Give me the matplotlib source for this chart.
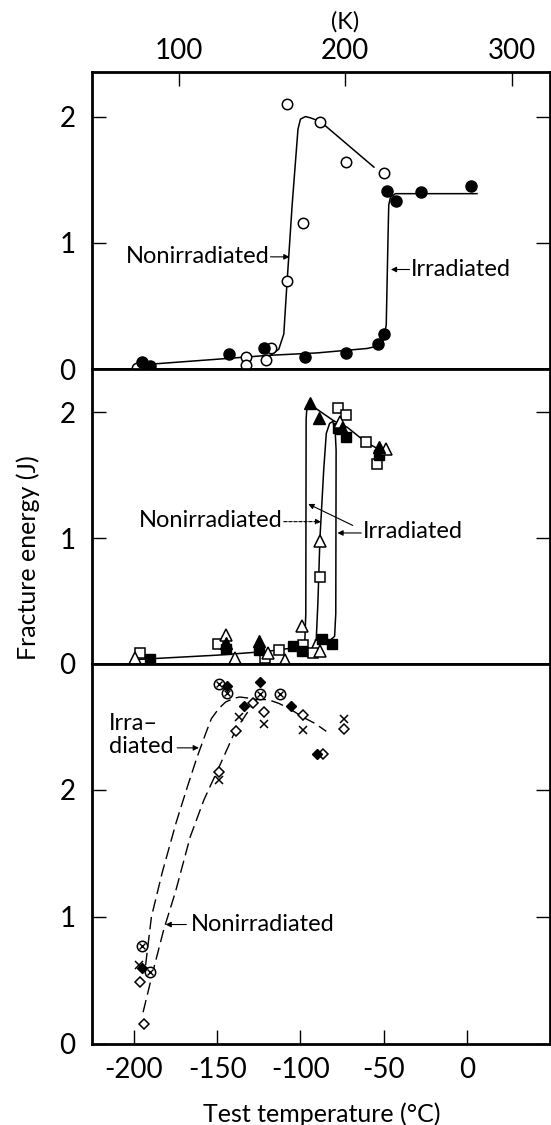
import matplotlib
matplotlib.use("Agg")
import matplotlib.pyplot as plt

plt.rcParams['font.family'] = ['Lato', 'DejaVu Sans']
plt.rcParams['axes.unicode_minus'] = False

# ---- panel 1: circles ----
p1_non_T = [-198, -132.7, -132.7, -120.6, -117.4, -107.8, -98.3, -107.8, -88.1, -72.9, -49.9]
p1_non_E = [0.01, 0.10, 0.035, 0.07, 0.17, 0.70, 1.16, 2.10, 1.96, 1.64, 1.55]
p1_irr_T = [-194.9, -190.6, -142.8, -122.1, -97.3, -72.9, -53.7, -49.9, -47.8, -42.7, -27.9, 2.5]
p1_irr_E = [0.06, 0.03, 0.12, 0.17, 0.10, 0.13, 0.20, 0.28, 1.41, 1.33, 1.40, 1.45]

p1_low_T = [-196, -150, -120, -90, -60, -55]
p1_low_E = [0.035, 0.08, 0.11, 0.13, 0.165, 0.18]
p1_irr_curve_T = [-55, -50.5, -48.5, -47.5, -47, -46, -43, -20, 0, 6]
p1_irr_curve_E = [0.18, 0.22, 0.35, 1.0, 1.3, 1.36, 1.39, 1.39, 1.39, 1.39]
p1_non_curve_T = [-118, -113, -110, -108.5, -105, -101.5, -100, -97, -94, -88, -55.9]
p1_non_curve_E = [0.11, 0.16, 0.28, 0.6, 1.3, 1.9, 1.98, 2.0, 1.99, 1.96, 1.60]

# ---- panel 2: squares and triangles ----
p2_osq_T = [-196.2, -149.8, -121.4, -112.8, -98.7, -92.7, -88.3, -77.7, -72.9, -60.7, -54.0]
p2_osq_E = [0.09, 0.16, 0.045, 0.11, 0.15, 0.085, 0.69, 2.03, 1.98, 1.76, 1.59]
p2_fsq_T = [-190.6, -144.8, -124.8, -104.3, -99.3, -87.3, -81.2, -77.7, -72.9, -53.1]
p2_fsq_E = [0.04, 0.12, 0.11, 0.14, 0.10, 0.20, 0.16, 1.87, 1.80, 1.66]
p2_otri_T = [-199.6, -144.8, -139.4, -119.4, -109.3, -99.3, -88.3, -88.3, -76.3, -48.4]
p2_otri_E = [0.045, 0.23, 0.045, 0.09, 0.03, 0.30, 0.10, 0.98, 1.92, 1.71]
p2_ftri_T = [-144.8, -124.8, -94.0, -88.7, -75.0, -53.1]
p2_ftri_E = [0.17, 0.18, 2.07, 1.95, 1.87, 1.72]

p2_irr1_T = [-199, -150, -120, -97.5, -96.8, -96.6, -96.2, -95, -92, -80, -72, -60.7, -49.5]
p2_irr1_E = [0.035, 0.07, 0.10, 0.14, 0.4, 1.95, 2.02, 2.05, 2.04, 1.93, 1.88, 1.76, 1.68]
p2_non_T = [-93, -90.5, -89.5, -88.3, -86, -84.5, -82.5, -80]
p2_non_E = [0.13, 0.2, 0.5, 1.0, 1.55, 1.83, 1.91, 1.93]
p2_irr2_T = [-91, -82, -79.5, -78.8, -78.6, -79.2, -80.5]
p2_irr2_E = [0.19, 0.19, 0.22, 0.4, 1.7, 1.86, 1.92]

# ---- panel 3: diamonds, crosses, circled crosses ----
p3_ocx_T = [-194.9, -190.6, -149.2, -143.9, -124.4, -112.1]
p3_ocx_E = [0.77, 0.57, 2.83, 2.76, 2.75, 2.75]
p3_fdia_T = [-194.9, -143.9, -124.4, -133.7, -105.7, -89.8]
p3_fdia_E = [0.60, 2.82, 2.85, 2.66, 2.66, 2.28]
p3_odia_T = [-196.6, -194.2, -149.2, -139.0, -128.5, -121.7, -98.7, -86.6, -73.9]
p3_odia_E = [0.49, 0.16, 2.14, 2.46, 2.68, 2.61, 2.59, 2.28, 2.48]
p3_x_T = [-197.0, -149.2, -136.9, -122.1, -98.3, -73.9]
p3_x_E = [0.62, 2.08, 2.57, 2.52, 2.47, 2.56]

p3_irr_T = [-193, -189.5, -183, -174.7, -168, -162, -157, -153.5, -149, -145, -140,
            -136.5, -130, -126.4, -119.6, -113, -106.8, -98.3, -91, -84.5]
p3_irr_E = [0.62, 1.0, 1.35, 1.74, 2.02, 2.26, 2.44, 2.56, 2.64, 2.69, 2.72,
            2.73, 2.72, 2.71, 2.71, 2.68, 2.64, 2.57, 2.52, 2.46]
p3_non_T = [-194.5, -188, -182.1, -175, -166.2, -158, -149.2, -143, -139, -132.3, -126.4]
p3_non_E = [0.25, 0.6, 0.9, 1.2, 1.63, 1.92, 2.17, 2.35, 2.47, 2.60, 2.71]

ylims = [2.35, 2.34, 2.99]
k_ticks = [100, 200, 300]
c_ticks = [-200, -150, -100, -50, 0]

fig = plt.figure(figsize=(5.51, 11.25), dpi=100)
left, width = 0.1675, 0.8312
boxes = [(0.6717, 0.2640), (0.4098, 0.2620), (0.0720, 0.3378)]
axes = []
for i, (b, h) in enumerate(boxes):
    ax = fig.add_axes([left, b, width, h])
    ax.set_xlim(-225, 50)
    ax.set_ylim(0, ylims[i])
    ax.set_yticks([0, 1, 2])
    ax.tick_params(axis='y', direction='in', length=10, width=1.0, labelsize=20,
                   pad=12, right=True)
    for s in ax.spines.values():
        s.set_linewidth(2.0)
    if i < 2:
        ax.tick_params(axis='x', bottom=False, labelbottom=False)
    else:
        ax.set_xticks(c_ticks)
        ax.tick_params(axis='x', direction='in', length=10, width=1.0,
                       labelsize=20, pad=9)
    axes.append(ax)

ax1, ax2, ax3 = axes

# Kelvin scale across the top
sec = ax1.secondary_xaxis('top', functions=(lambda t: t + 273.15, lambda k: k - 273.15))
sec.set_xticks(k_ticks)
sec.tick_params(direction='in', length=10, width=1.0, labelsize=20, pad=6)
fig.text(345 / 551, 1 - 22 / 1125, '(K)', ha='center', va='center', fontsize=17)

line_kw = dict(color='black', lw=1.1, zorder=2)
open_kw = dict(ls='none', mfc='white', mec='black', mew=1.1, zorder=3)
fill_kw = dict(ls='none', color='black', zorder=3)
arrow = dict(arrowstyle='-|>', color='black', lw=0.8, mutation_scale=8,
             shrinkA=0, shrinkB=0)
note_size = 17

# panel 1
ax1.plot(p1_low_T, p1_low_E, **line_kw)
ax1.plot(p1_irr_curve_T, p1_irr_curve_E, **line_kw)
ax1.plot(p1_non_curve_T, p1_non_curve_E, **line_kw)
ax1.plot(p1_non_T, p1_non_E, marker='o', ms=7.5, **open_kw)
ax1.plot(p1_irr_T, p1_irr_E, marker='o', ms=8, **fill_kw)

ax1.text(-118.5, 0.89, 'Nonirradiated', ha='right', va='center', fontsize=note_size)
ax1.annotate('', xy=(-106.6, 0.89), xytext=(-118.0, 0.89), arrowprops=arrow)
ax1.annotate('', xy=(-45.7, 0.79), xytext=(-34.5, 0.79), arrowprops=arrow)
ax1.text(-33.5, 0.79, 'Irradiated', ha='left', va='center', fontsize=note_size)

# panel 2
ax2.plot(p2_irr1_T, p2_irr1_E, **line_kw)
ax2.plot(p2_non_T, p2_non_E, **line_kw)
ax2.plot(p2_irr2_T, p2_irr2_E, **line_kw)
ax2.plot(p2_osq_T, p2_osq_E, marker='s', ms=7, **open_kw)
ax2.plot(p2_fsq_T, p2_fsq_E, marker='s', ms=7, **fill_kw)
ax2.plot(p2_otri_T, p2_otri_E, marker='^', ms=8, **open_kw)
ax2.plot(p2_ftri_T, p2_ftri_E, marker='^', ms=8, **fill_kw)

ax2.text(-110.5, 1.14, 'Nonirradiated', ha='right', va='center', fontsize=note_size)
dash_arrow = dict(arrow, linestyle=(0, (3, 1.5)))
ax2.annotate('', xy=(-87.6, 1.13), xytext=(-110.0, 1.13), arrowprops=dash_arrow)
ax2.annotate('', xy=(-77.8, 1.04), xytext=(-63.5, 1.04), arrowprops=arrow)
ax2.annotate('', xy=(-95.3, 1.27), xytext=(-68.6, 1.10), arrowprops=arrow)
ax2.text(-62.5, 1.05, 'Irradiated', ha='left', va='center', fontsize=note_size)

# panel 3
dash_kw = dict(color='black', lw=1.0, ls=(0, (9, 4)), zorder=2)
ax3.plot(p3_irr_T, p3_irr_E, **dash_kw)
ax3.plot(p3_non_T, p3_non_E, **dash_kw)
ax3.plot(p3_ocx_T, p3_ocx_E, marker='o', ms=7.5, **open_kw)
ax3.plot(p3_ocx_T, p3_ocx_E, marker='x', ms=5, ls='none', color='black', mew=1.0, zorder=4)
ax3.plot(p3_odia_T, p3_odia_E, marker='D', ms=5.5, **open_kw)
ax3.plot(p3_fdia_T, p3_fdia_E, marker='D', ms=5.5, **fill_kw)
ax3.plot(p3_x_T, p3_x_E, marker='x', ms=6, ls='none', color='black', mew=1.1, zorder=3)

ax3.text(-215, 2.52, 'Irra\u2013', ha='left', va='center', fontsize=note_size)
ax3.text(-215, 2.34, 'diated', ha='left', va='center', fontsize=note_size)
ax3.annotate('', xy=(-161.0, 2.33), xytext=(-174.0, 2.33), arrowprops=arrow)
ax3.annotate('', xy=(-181.0, 0.94), xytext=(-168.5, 0.94), arrowprops=arrow)
ax3.text(-166.0, 0.94, 'Nonirradiated', ha='left', va='center', fontsize=note_size)

ax3.set_xlabel('Test temperature (\u00b0C)', fontsize=18, labelpad=14)
fig.text(0.052, 0.504, 'Fracture energy (J)', rotation=90, ha='center', va='center',
         fontsize=18)

fig.savefig('out.png', dpi=100)
